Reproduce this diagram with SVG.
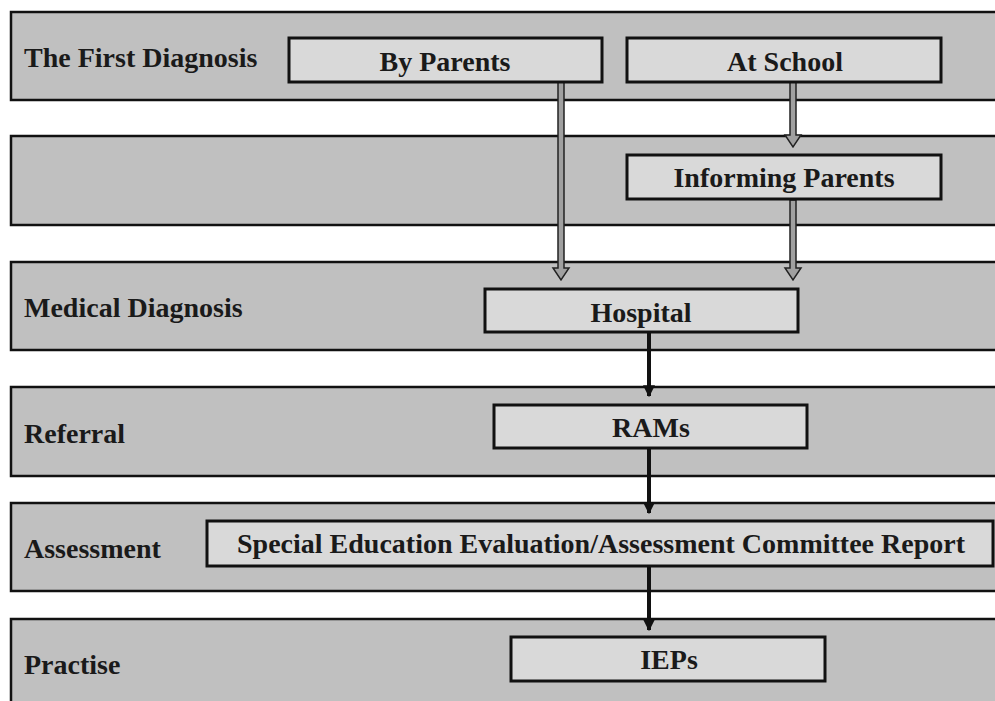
<svg xmlns="http://www.w3.org/2000/svg" width="995" height="701" viewBox="0 0 995 701">
<defs>
<style>
.band{fill:#c0c0c0;stroke:#111;stroke-width:2.5}
.box{fill:#d9d9d9;stroke:#111;stroke-width:3}
.lbl{font-family:"Liberation Serif","Times New Roman",serif;font-weight:bold;font-size:28px;fill:#1a1a1a}
.ctr{text-anchor:middle}
.dbl{fill:#a0a0a0;stroke:#222;stroke-width:1.5;stroke-linejoin:miter}
.blk{stroke:#111;stroke-width:4;fill:none}
</style>
<marker id="ah" viewBox="0 0 10 10" refX="9" refY="5" markerWidth="3" markerHeight="3" orient="auto" markerUnits="strokeWidth">
<path d="M0,0 L10,5 L0,10 z" fill="#111"/>
</marker>
</defs>
<rect width="995" height="701" fill="#fff"/>
<g id="bands">
<g id="band1"><rect class="band" x="11" y="12" width="1000" height="88"/><text class="lbl" x="24" y="67">The First Diagnosis</text></g>
<g id="band2"><rect class="band" x="11" y="136" width="1000" height="89"/></g>
<g id="band3"><rect class="band" x="11" y="262" width="1000" height="88"/><text class="lbl" x="24" y="317">Medical Diagnosis</text></g>
<g id="band4"><rect class="band" x="11" y="387" width="1000" height="89"/><text class="lbl" x="24" y="443">Referral</text></g>
<g id="band5"><rect class="band" x="11" y="503" width="1000" height="88"/><text class="lbl" x="24" y="558">Assessment</text></g>
<g id="band6"><rect class="band" x="11" y="619" width="1000" height="100"/><text class="lbl" x="24" y="674">Practise</text></g>
</g>
<g id="connectors">
<path class="dbl" d="M558,82 L564,82 L564,268 L569,268 L561,280 L553,268 L558,268 Z"/>
<path class="dbl" d="M790,82 L796,82 L796,135 L801,135 L793,147 L785,135 L790,135 Z"/>
<path class="dbl" d="M790,200 L796,200 L796,268 L801,268 L793,280 L785,268 L790,268 Z"/>
<line class="blk" x1="649" y1="332" x2="649" y2="396" marker-end="url(#ah)"/>
<line class="blk" x1="649" y1="448" x2="649" y2="513" marker-end="url(#ah)"/>
<line class="blk" x1="649" y1="566" x2="649" y2="630" marker-end="url(#ah)"/>
</g>
<g id="n-byparents"><rect class="box" x="289" y="38" width="313" height="44"/><text class="lbl ctr" x="445" y="71">By Parents</text></g>
<g id="n-atschool"><rect class="box" x="627" y="38" width="314" height="44"/><text class="lbl ctr" x="785" y="71">At School</text></g>
<g id="n-informing"><rect class="box" x="627" y="155" width="314" height="44"/><text class="lbl ctr" x="784" y="187">Informing Parents</text></g>
<g id="n-hospital"><rect class="box" x="485" y="289" width="313" height="43"/><text class="lbl ctr" x="641" y="322">Hospital</text></g>
<g id="n-rams"><rect class="box" x="494" y="405" width="313" height="43"/><text class="lbl ctr" x="651" y="437">RAMs</text></g>
<g id="n-special"><rect class="box" x="207" y="521" width="786" height="45"/><text class="lbl ctr" x="601" y="553">Special Education Evaluation/Assessment Committee Report</text></g>
<g id="n-ieps"><rect class="box" x="511" y="637" width="314" height="44"/><text class="lbl ctr" x="669" y="669">IEPs</text></g>
</svg>
